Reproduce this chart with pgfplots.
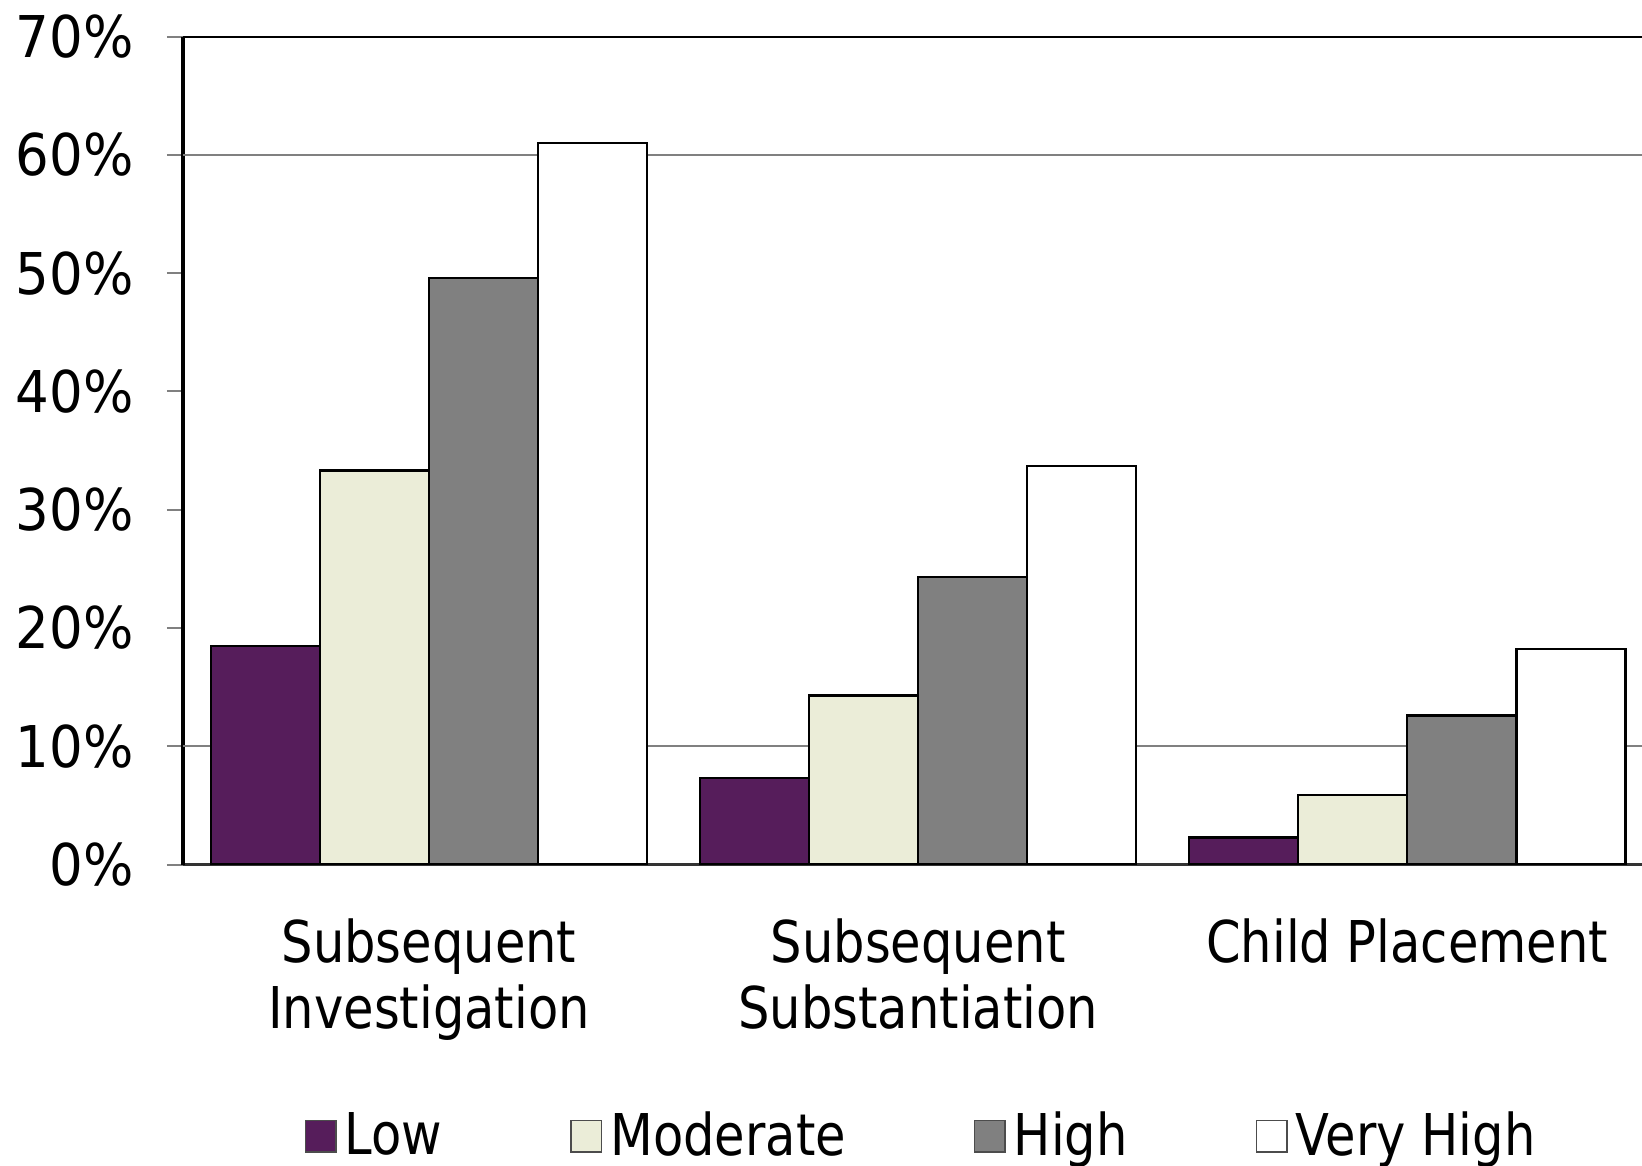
\documentclass[border=0pt]{standalone}
\usepackage{pgfplots}
\pgfplotsset{compat=1.18}
\usepackage{fontspec}
\setmainfont{DejaVu Sans}[FakeStretch=0.86]
\newfontfamily\tickfont{DejaVu Sans}[FakeStretch=0.92]

\definecolor{lowc}{HTML}{561D5B}
\definecolor{modc}{HTML}{EBEDD8}
\definecolor{highc}{HTML}{808080}

\newcommand{\chartfont}{\fontsize{14.4}{16.5}\selectfont}

\begin{document}
\begin{tikzpicture}
\begin{axis}[
    scale only axis,
    width=364.75pt, height=207pt,
    axis lines=left,
    axis line style={-},
    x axis line style={draw=black!80, line width=0.9pt},
    y axis line style={draw=black, line width=0.8pt},
    ybar=0pt,
    bar width=0.223,
    xmin=-0.503, xmax=2.48,
    ymin=0, ymax=70,
    ytick={0,10,...,70},
    yticklabel={\pgfmathprintnumber{\tick}\%},
    /pgf/number format/assume math mode=true,
    tick align=outside,
    major tick length=4pt,
    ytick style={draw=gray, line width=0.5pt},
    yticklabel style={xshift=-4.8pt, font=\tickfont\chartfont},
    xtick={0,1,2},
    xticklabels={Subsequent\\Investigation, Subsequent\\Substantiation, Child Placement},
    xtick style={draw=none},
    xticklabel style={align=center, yshift=-6pt, font=\chartfont},
    extra y ticks={10,60},
    extra y tick labels={},
    extra y tick style={grid=major, major grid style={draw=gray, line width=0.5pt}, major tick length=0pt},
    legend columns=4,
    legend style={draw=none, fill=none, font=\chartfont,
        at={(0.508,-0.328)}, anchor=center,
        /tikz/every even column/.append style={column sep=30pt}},
    legend image code/.code={\draw[#1, draw=black!70, line width=0.4pt] (-2.6pt,-3.9pt) rectangle (5pt,3.9pt);},
    every axis plot/.append style={draw=black, line width=0.6pt},
]
\addplot[fill=lowc] coordinates {(0,18.5) (1,7.3) (2,2.3)};
\addlegendentry{Low}
\addplot[fill=modc] coordinates {(0,33.3) (1,14.3) (2,5.9)};
\addlegendentry{Moderate}
\addplot[fill=highc] coordinates {(0,49.6) (1,24.3) (2,12.6)};
\addlegendentry{High}
\addplot[fill=white] coordinates {(0,61.0) (1,33.7) (2,18.2)};
\addlegendentry{Very High}
\draw[black, line width=0.8pt] (rel axis cs:0,1) -- (rel axis cs:1,1);
\coordinate (bl) at (rel axis cs:0,0);
\coordinate (tr) at (rel axis cs:1,1);
\end{axis}
\pgfresetboundingbox
\path ([xshift=-45.75pt, yshift=-75.25pt]bl) rectangle ([yshift=9.15pt]tr);
\end{tikzpicture}
\end{document}
